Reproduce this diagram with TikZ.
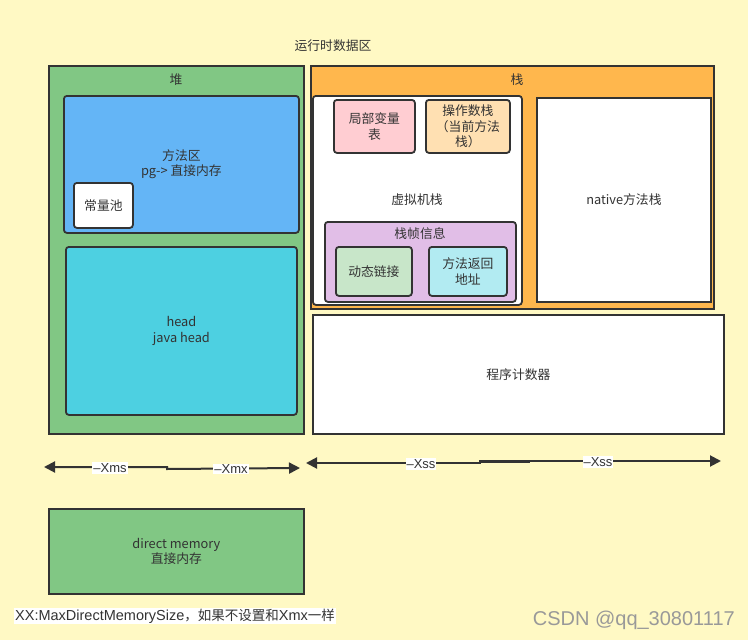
\documentclass[tikz,border=0pt]{standalone}
\usepackage{fontspec}
\setmainfont{Noto Sans CJK SC}
\newfontfamily\narrowfont{Liberation Sans}
\usetikzlibrary{arrows.meta}
\definecolor{bgc}{HTML}{FFF9C4}
\definecolor{lnc}{HTML}{333333}
\definecolor{heapg}{HTML}{81C784}
\definecolor{methb}{HTML}{64B5F6}
\definecolor{headc}{HTML}{4DD0E1}
\definecolor{stacko}{HTML}{FFB74D}
\definecolor{pinkc}{HTML}{FFCDD2}
\definecolor{peachc}{HTML}{FFE0B2}
\definecolor{purplec}{HTML}{E1BEE7}
\definecolor{lgreenc}{HTML}{C8E6C9}
\definecolor{lcyanc}{HTML}{B2EBF2}
\definecolor{txtc}{HTML}{333333}
\tikzset{
  box/.style={draw=lnc, line width=1.8pt, anchor=north west, inner sep=0pt, align=center, text=txtc, font=\fontsize{12.8}{15.5}\selectfont},
  rbox/.style={box, rounded corners=3pt},
  lbl/.style={text=txtc, font=\fontsize{12.8}{15.5}\selectfont, inner sep=0pt},
  arr/.style={draw=lnc, line width=2pt, {Triangle[length=11pt,width=11pt]}-{Triangle[length=11pt,width=11pt]}},
  xlbl/.style={fill=white, text=txtc, inner sep=1pt, font=\narrowfont\fontsize{13}{15}\selectfont}
}
\begin{document}
\begin{tikzpicture}[x=1pt,y=-1pt]
\fill[bgc] (0,0) rectangle (748,640);
\useasboundingbox (0,0) rectangle (748,640);

\node[lbl] (title) at (333,46) {运行时数据区};

% heap
\node[box, fill=heapg, minimum width=255pt, minimum height=368pt] (heap) at (48,65) {};
\node[lbl] (heapl) at (176,80) {堆};
\node[rbox, fill=methb, minimum width=235pt, minimum height=137pt] (meth) at (63,95) {方法区\\pg-> 直接内存};
\node[rbox, fill=white, minimum width=59pt, minimum height=45pt] (pool) at (73,182) {常量池};
\node[rbox, fill=headc, minimum width=231pt, minimum height=168pt] (head) at (65,246) {head\\java head};

% stack
\node[box, fill=stacko, minimum width=403pt, minimum height=243pt] (stack) at (310,65) {};
\node[lbl] (stackl) at (517,80) {栈};
\node[rbox, fill=white, minimum width=209pt, minimum height=209pt] (vm) at (312,95) {};
\node[lbl] (vml) at (417,200) {虚拟机栈};
\node[rbox, fill=pinkc, minimum width=81pt, minimum height=53pt] (local) at (333,99) {局部变量\\表};
\node[rbox, fill=peachc, minimum width=84pt, minimum height=53pt] (oper) at (425,99) {操作数栈\\（当前方法\\栈）};
\node[rbox, fill=purplec, minimum width=191pt, minimum height=80pt] (frame) at (324,221) {};
\node[lbl] (framel) at (420,234) {栈帧信息};
\node[rbox, fill=lgreenc, minimum width=76pt, minimum height=49pt] (dyn) at (335,246) {动态链接};
\node[rbox, fill=lcyanc, minimum width=78pt, minimum height=49pt] (ret) at (428,246) {方法返回\\地址};
\node[box, fill=white, minimum width=174pt, minimum height=204pt] (native) at (536,97) {native方法栈};
\node[box, fill=white, minimum width=411pt, minimum height=119pt] (pc) at (312,314) {程序计数器};

% arrows
\coordinate (hl) at (44,467);
\coordinate (hm1) at (167,467);
\coordinate (hm2) at (167,469);
\coordinate (hr) at (300,468);
\draw[arr] (hl) -- (hm1) -- (hm2) -- (hr);
\node[xlbl] (xms) at (110,468) {–Xms};
\node[xlbl] (xmx) at (231,469) {–Xmx};

\coordinate (sl) at (306,463);
\coordinate (sm1) at (480,463);
\coordinate (sm2) at (480,461);
\coordinate (sr) at (721,461);
\draw[arr] (sl) -- (sm1) -- (sm2) -- (sr);
\draw[lnc, line width=3pt] (480,461.5) -- (530,461.5);
\node[xlbl] (xss1) at (421,464) {–Xss};
\node[xlbl] (xss2) at (598,462) {–Xss};

% direct memory
\node[box, fill=heapg, minimum width=255pt, minimum height=85pt] (direct) at (48,508) {direct memory\\直接内存};

\node[anchor=west, fill=white, inner sep=1pt, text=txtc, font=\narrowfont\fontsize{14.5}{16}\selectfont] (note) at (14,616) {XX:MaxDirectMemorySize{\rmfamily\fontsize{13.5}{16}\selectfont ，如果不设置和}Xmx{\rmfamily\fontsize{13.5}{16}\selectfont 一样}};

\node[anchor=east, text=gray!80, inner sep=0pt, font=\narrowfont\fontsize{20}{22}\selectfont] (csdn) at (735,620) {CSDN @qq\_30801117};
\end{tikzpicture}
\end{document}
